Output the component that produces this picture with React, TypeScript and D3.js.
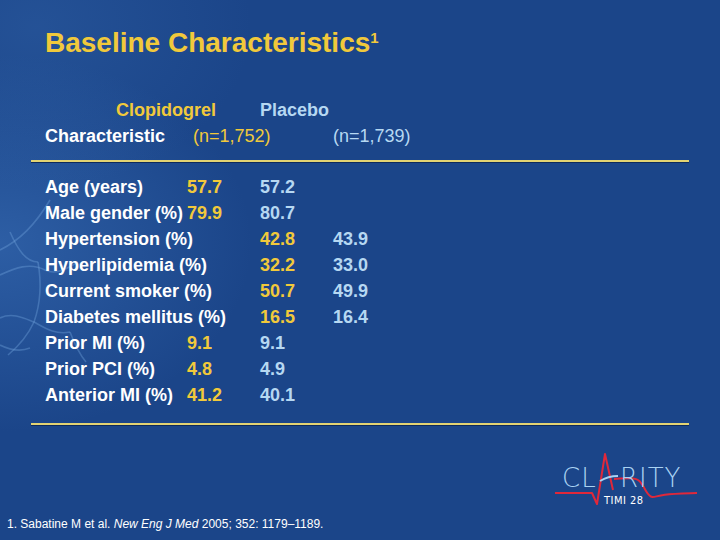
import React from "react";
import * as d3 from "d3";

// ---- data ----
const titleText = "Baseline Characteristics";
const groupNames = ["Clopidogrel", "Placebo"];
const groupNs = ["(n=1,752)", "(n=1,739)"];
const characteristics = [
  "Age (years)",
  "Male gender (%)",
  "Hypertension (%)",
  "Hyperlipidemia (%)",
  "Current smoker (%)",
  "Diabetes mellitus (%)",
  "Prior MI (%)",
  "Prior PCI (%)",
  "Anterior MI (%)",
];
const clopidogrel = [57.7, 79.9, 42.8, 32.2, 50.7, 16.5, 9.1, 4.8, 41.2];
const placebo = [57.2, 80.7, 43.9, 33.0, 49.9, 16.4, 9.1, 4.9, 40.1];
// column offset of each row's values, as laid out on the original slide
const columnShift = [0, 0, 1, 1, 1, 1, 0, 0, 0];
const footnote = { pre: "1. Sabatine M et al. ", journal: "New Eng J Med", post: " 2005; 352: 1179\u20131189." };

const W = 720;
const H = 540;
const BG = "#1b4589";
const YELLOW = "#f1c93b";
const LIGHT = "#b6d8f2";
const WHITE = "#ffffff";
const LINE = "#e3d372";
const FONT = "'Liberation Sans', Arial, sans-serif";

export default function App() {
  const y = d3
    .scaleLinear()
    .domain([0, characteristics.length - 1])
    .range([193, 401]);
  const col = d3.scaleLinear().domain([0, 2]).range([187, 333]);
  const fmt = d3.format(".1f");

  const spike = d3.line().curve(d3.curveLinear)([
    [555, 493],
    [592, 493],
    [597, 504],
    [605, 454],
    [613, 490],
  ] as [number, number][]);
  const tail = d3.line().curve(d3.curveBasis)([
    [614, 479],
    [630, 478],
    [640, 479],
    [646, 492],
    [652, 499],
    [660, 494],
    [697, 493],
  ] as [number, number][]);

  const veins = [
    "M0,250 C20,240 35,225 50,200",
    "M0,275 C15,268 30,262 45,270 C55,275 65,270 78,262",
    "M38,262 C42,285 40,305 34,322 C28,335 20,345 8,355",
    "M0,318 C12,312 24,318 34,322 C45,328 55,335 70,332",
    "M10,232 C18,250 26,262 38,262",
    "M0,345 C10,350 20,352 30,348",
    "M70,332 C75,345 80,355 86,362",
  ];

  return (
    <svg
      width={W}
      height={H}
      style={{ position: "absolute", left: 0, top: 0, display: "block" }}
      fontFamily={FONT}
    >
      <defs>
        <radialGradient id="glow" cx="0" cy="0.45" r="0.35">
          <stop offset="0%" stopColor="#3f77c0" stopOpacity={0.5} />
          <stop offset="100%" stopColor="#3f77c0" stopOpacity={0} />
        </radialGradient>
        <radialGradient id="glow2" cx="0.05" cy="0.05" r="0.3">
          <stop offset="0%" stopColor="#3a6fb5" stopOpacity={0.3} />
          <stop offset="100%" stopColor="#3a6fb5" stopOpacity={0} />
        </radialGradient>
      </defs>
      <rect width={W} height={H} fill={BG} />
      <rect width={W} height={H} fill="url(#glow)" />
      <rect width={W} height={H} fill="url(#glow2)" />
      {veins.map((d, i) => (
        <path key={i} d={d} fill="none" stroke="#6e9fda" strokeOpacity={0.4} strokeWidth={1.6} />
      ))}

      {/* title */}
      <text x={45} y={52} fill={YELLOW} fontSize={28} fontWeight="bold">
        {titleText}
        <tspan fontSize={15} dy={-9}>1</tspan>
      </text>

      {/* header */}
      <text x={116} y={116} fill={YELLOW} fontSize={18} fontWeight="bold">
        {groupNames[0]}
      </text>
      <text x={260} y={116} fill={LIGHT} fontSize={18} fontWeight="bold">
        {groupNames[1]}
      </text>
      <text x={45} y={142} fill={WHITE} fontSize={18} fontWeight="bold">
        Characteristic
      </text>
      <text x={193} y={142} fill={YELLOW} fontSize={18}>
        {groupNs[0]}
      </text>
      <text x={333} y={142} fill={LIGHT} fontSize={18}>
        {groupNs[1]}
      </text>

      {/* rules */}
      <line x1={31} x2={689} y1={162} y2={162} stroke="#0e2a5c" strokeWidth={2} />
      <line x1={31} x2={689} y1={161} y2={161} stroke={LINE} strokeWidth={2} />
      <line x1={31} x2={689} y1={425} y2={425} stroke="#0e2a5c" strokeWidth={2} />
      <line x1={31} x2={689} y1={424} y2={424} stroke={LINE} strokeWidth={2} />

      {/* rows */}
      {characteristics.map((c, i) => (
        <g key={c} fontSize={18} fontWeight="bold">
          <text x={45} y={y(i)} fill={WHITE}>
            {c}
          </text>
          <text x={col(columnShift[i])} y={y(i)} fill={YELLOW}>
            {fmt(clopidogrel[i])}
          </text>
          <text x={col(columnShift[i] + 1)} y={y(i)} fill={LIGHT}>
            {fmt(placebo[i])}
          </text>
        </g>
      ))}

      {/* footnote */}
      <text x={7} y={528} fill={WHITE} fontSize={12}>
        {footnote.pre}
        <tspan fontStyle="italic">{footnote.journal}</tspan>
        {footnote.post}
      </text>

      {/* logo */}
      <g>
        <path d={spike ?? ""} fill="none" stroke="#e0283a" strokeWidth={2} strokeLinejoin="round" />
        <path d={tail ?? ""} fill="none" stroke="#e0283a" strokeWidth={2} />
        <text x={562} y={487} fill="#a9d2f2" fontSize={26} fontFamily="'DejaVu Sans', sans-serif" fontWeight="300" letterSpacing={1}>
          CL
        </text>
        <path d="M600,481 Q608,476 618,476" fill="none" stroke="#a9d2f2" strokeWidth={2} />
        <text x={620} y={487} fill="#a9d2f2" fontSize={26} fontFamily="'DejaVu Sans', sans-serif" fontWeight="300" letterSpacing={1}>
          RITY
        </text>
        <text x={604} y={504} fill={WHITE} fontSize={11} fontFamily="'DejaVu Sans Condensed', 'DejaVu Sans', sans-serif" letterSpacing={0.5}>
          TIMI 28
        </text>
      </g>
    </svg>
  );
}
